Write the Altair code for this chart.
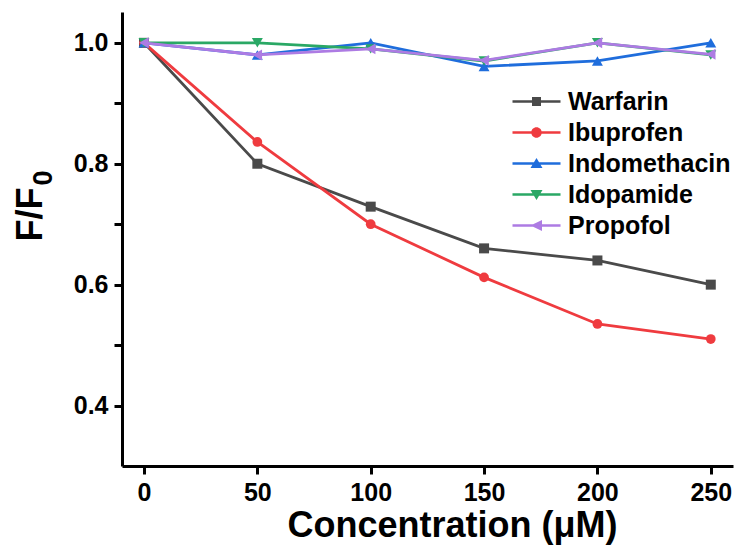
import altair as alt
import pandas as pd

conc = [0, 50, 100, 150, 200, 250]
names = ["Warfarin", "Ibuprofen", "Indomethacin", "Idopamide", "Propofol"]
warfarin = [1.0, 0.80, 0.729, 0.66, 0.64, 0.60]
ibuprofen = [1.0, 0.836, 0.70, 0.612, 0.535, 0.51]
indomethacin = [1.0, 0.98, 1.0, 0.961, 0.97, 1.0]
idopamide = [1.0, 1.0, 0.99, 0.97, 1.0, 0.98]
propofol = [1.0, 0.98, 0.99, 0.971, 1.0, 0.981]
values = [warfarin, ibuprofen, indomethacin, idopamide, propofol]
colors = ["#4a4a4a", "#ef3b3f", "#1f6ddc", "#2aa865", "#ad7be3"]
shapes = ["square", "circle", "triangle-up", "triangle-down", "triangle-left"]
sizes = [100, 95, 120, 120, 120]
y_title_main = "F/F"
y_title_sub = ["0"]

rows = []
for n, vals in zip(names, values):
    for c, v in zip(conc, vals):
        rows.append({"series": n, "conc": c, "ratio": v})
df = pd.DataFrame(rows)

FONT = "Liberation Sans"
xs = alt.Scale(domain=[-9.7, 259.8], nice=False, zero=False)
ys = alt.Scale(domain=[0.3, 1.051], nice=False, zero=False)

xenc = alt.X("conc:Q", scale=xs, title="Concentration (μM)",
             axis=alt.Axis(values=[0, 50, 100, 150, 200, 250], grid=False,
                           domainWidth=3, domainColor="black", tickWidth=3,
                           tickSize=8, tickColor="black", labelFontSize=25,
                           labelFont=FONT, labelFontWeight="bold",
                           labelColor="black", labelPadding=6,
                           titleFontSize=36, titleFont=FONT,
                           titleFontWeight="bold", titleColor="black",
                           titlePadding=3, titleX=330))
yenc = alt.Y("ratio:Q", scale=ys, title=y_title_main,
             axis=alt.Axis(values=[0.4, 0.5, 0.6, 0.7, 0.8, 0.9, 1.0],
                           labelExpr="round(datum.value*10) % 2 == 0 ? format(datum.value, '.1f') : ''",
                           grid=False, domainWidth=3, domainColor="black",
                           tickWidth=3, tickSize=8, tickColor="black",
                           labelFontSize=25, labelFont=FONT,
                           labelFontWeight="bold", labelColor="black",
                           labelPadding=6, titleFontSize=36, titleFont=FONT,
                           titleFontWeight="bold", titleColor="black",
                           titlePadding=24, titleY=202))

layers = []
for n, col, shp, sz in zip(names, colors, shapes, sizes):
    base = alt.Chart(df).transform_filter(alt.datum.series == n)
    layers.append(base.mark_line(strokeWidth=2.8, color=col).encode(x=xenc, y=yenc))
    layers.append(base.mark_point(filled=True, shape=shp, size=sz, color=col,
                                  opacity=1).encode(x=xenc, y=yenc))

line_part = "M-8.6,-0.26H1V0.26H-8.6Z"
legend_paths = [
    line_part + "M-4.7,-0.9H-2.9V0.9H-4.7Z",
    line_part + "M-4.85,0A1.05,1.05 0 1,1 -2.75,0A1.05,1.05 0 1,1 -4.85,0Z",
    line_part + "M-3.8,-1.1L-2.6,0.9H-5.0Z",
    line_part + "M-3.8,1.1L-5.0,-0.9H-2.6Z",
    line_part + "M-5.0,0L-2.7,-1.1V1.1Z",
]
leg = alt.Legend(title=None, orient="none", legendX=421, legendY=77,
                 labelFontSize=25, labelFont=FONT, labelFontWeight="bold",
                 labelColor="black", labelOffset=0, labelLimit=400,
                 symbolSize=100, symbolOpacity=1, symbolStrokeWidth=0,
                 rowPadding=5, padding=0)
legend_layer = alt.Chart(df).mark_point(filled=True, opacity=0).encode(
    x=xenc, y=yenc,
    color=alt.Color("series:N", scale=alt.Scale(domain=names, range=colors), legend=leg),
    shape=alt.Shape("series:N", scale=alt.Scale(domain=names, range=legend_paths), legend=leg),
)

sub_layer = alt.Chart(pd.DataFrame({"t": y_title_sub})).mark_text(
    angle=270, align="center", baseline="alphabetic", fontSize=27,
    font=FONT, fontWeight="bold", color="black",
).encode(text="t:N", x=alt.value(-70), y=alt.value(166))

chart = alt.layer(legend_layer, *layers, sub_layer).properties(
    width=611, height=454,
    autosize=alt.AutoSizeParams(type="none"),
    padding={"left": 122, "top": 12, "right": 6, "bottom": 90},
    background="white",
).configure_view(stroke=None)

chart.save("out.html", embed_options={"renderer": "svg", "actions": False})
